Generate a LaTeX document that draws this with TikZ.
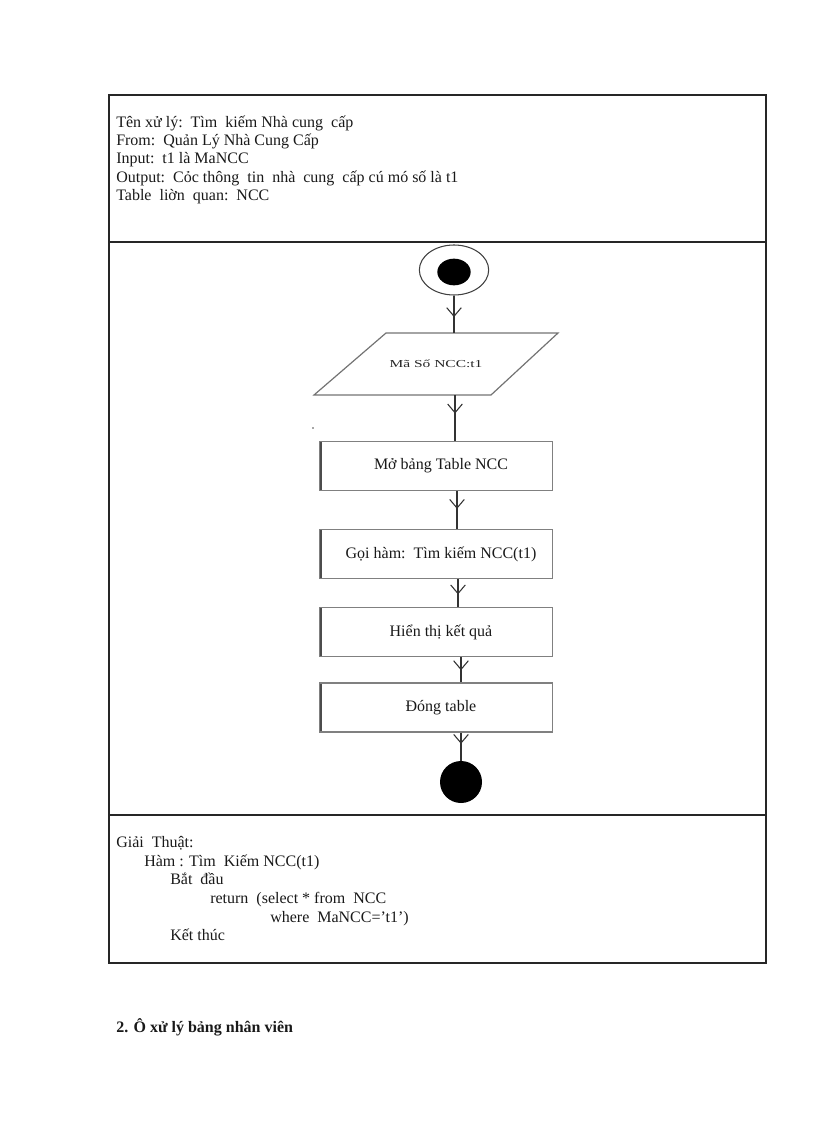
\documentclass[tikz,border=0pt]{standalone}
\usepackage{fontspec}
\setmainfont{Liberation Serif}
\usetikzlibrary{shapes.geometric,arrows.meta,decorations.markings}
\begin{document}
\begin{tikzpicture}[x=0.75pt,y=-0.75pt,
  frame/.style={draw=black!85,line width=1.1pt},
  txt/.style={anchor=base west,inner sep=0pt,font=\fontsize{12}{14}\selectfont,text=black!90},
  box/.style={draw=black!50,line width=0.9pt,minimum width=174.75pt,minimum height=36.75pt,inner sep=0pt,
    font=\fontsize{12}{14}\selectfont,text=black!90,
    path picture={\draw[black!70,line width=3pt] (path picture bounding box.north west) -- (path picture bounding box.south west);}},
  flow/.style={draw=black!80,line width=0.9pt,postaction={decorate},
    decoration={markings,mark=at position #1 with {\arrow{Straight Barb[length=6.5pt,width=11pt,line width=0.8pt]}}}},
  flow/.default=0.5]

\useasboundingbox (0,0) rectangle (816,1123);

% table frame
\draw[frame] (109,95) rectangle (766,963);
\draw[frame] (109,242) -- (766,242);
\draw[frame] (109,815) -- (766,815);

% header text
\node[txt] (h1) at (116,128) {Tên xử lý:\ \ Tìm\ \ kiếm Nhà cung\ \ cấp};
\node[txt] (h2) at (116,146) {From:\ \ Quản Lý Nhà Cung Cấp};
\node[txt] (h3) at (116,164) {Input:\ \ t1 là MaNCC};
\node[txt] (h4) at (116,183) {Output:\ \ Cỏc thông\ \ tin\ \ nhà\ \ cung\ \ cấp cú mó số là t1};
\node[txt] (h5) at (116,201) {Table\ \ liờn\ \ quan:\ \ NCC};

% flowchart
\node[ellipse,draw=black!75,line width=0.8pt,minimum width=52pt,minimum height=37.5pt,inner sep=0pt] (start) at (454,270) {};
\node[ellipse,fill=black,minimum width=25pt,minimum height=20pt,inner sep=0pt] (startdot) at (454,272) {};

\draw[draw=black!55,line width=0.9pt] (386,333) -- (558,333) -- (491,395) -- (314,395) -- cycle;
\node[minimum width=1pt,minimum height=46.5pt,inner sep=0pt,font=\fontsize{8}{9}\selectfont,text=black!85] (inp) at (436,364) {\scalebox{1.45}[1]{Mã Số NCC:t1}};
\fill[black!70] (313,428) circle (0.8);

\node[box] (b1) at (436,466) {\hspace*{7.5pt}Mở bảng Table NCC};
\node[box] (b2) at (436,554) {\hspace*{7.5pt}Gọi hàm:\ \ Tìm kiếm NCC(t1)};
\node[box] (b3) at (436,632) {\hspace*{7.5pt}Hiển thị kết quả};
\node[box] (b4) at (436,707.5) {\hspace*{7.5pt}Đóng table};

\node[circle,fill=black,minimum size=31.5pt,inner sep=0pt] (stop) at (461,782) {};

\draw[flow=0.58] (start.south) -- ([xshift=13.5pt]inp.north);
\draw[flow=0.4] ([xshift=14.25pt]inp.south) -- ([xshift=14.25pt]b1.north);
\draw[flow=0.47] ([xshift=15.75pt]b1.south) -- ([xshift=15.75pt]b2.north);
\draw[flow=0.55] ([xshift=16.5pt]b2.south) -- ([xshift=16.5pt]b3.north);
\draw[flow=0.52] ([xshift=18.75pt]b3.south) -- ([xshift=18.75pt]b4.north);
\draw[flow=0.4] ([xshift=18.75pt]b4.south) -- (stop.north);

% algorithm text
\node[txt] (g1) at (116,847) {Giải\ \ Thuật:};
\node[txt] (g2) at (144,866) {Hàm : Tìm\ \ Kiếm NCC(t1)};
\node[txt] (g3) at (170,884) {Bắt\ \ đầu};
\node[txt] (g4) at (210,903) {return\ \ (select * from\ \ NCC};
\node[txt] (g5) at (270,922) {where\ \ MaNCC=’t1’)};
\node[txt] (g6) at (170,940) {Kết thúc};

% heading below
\node[txt,font=\fontsize{12}{14}\selectfont\bfseries] (sec) at (116,1032) {2. Ô xử lý bảng nhân viên};
\end{tikzpicture}
\end{document}
